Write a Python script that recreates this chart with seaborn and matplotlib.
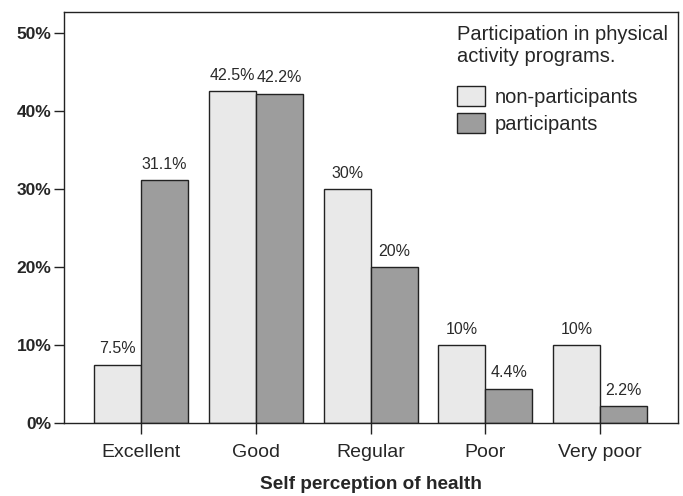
import pandas as pd
import seaborn as sns
import matplotlib.pyplot as plt

categories = ["Excellent", "Good", "Regular", "Poor", "Very poor"]
non_participants = [7.5, 42.5, 30, 10, 10]
participants = [31.1, 42.2, 20, 4.4, 2.2]
groups = ["non-participants", "participants"]

df = pd.DataFrame({
    "health": categories * 2,
    "pct": non_participants + participants,
    "group": [groups[0]] * len(categories) + [groups[1]] * len(categories),
})

sns.set_style("ticks")
plt.rcParams["font.family"] = ["Liberation Sans", "DejaVu Sans"]

fig = plt.figure(figsize=(6.83, 4.96), dpi=100)
ax = fig.add_axes([0.094, 0.147, 0.899, 0.829])

palette = {"non-participants": "#e9e9e9", "participants": "#9d9d9d"}
sns.barplot(data=df, x="health", y="pct", hue="group", order=categories, hue_order=groups,
            palette=palette, width=0.82, edgecolor="#222222", linewidth=1.0, saturation=1, ax=ax)

for container in ax.containers:
    labels = [f"{v:g}%" for v in container.datavalues]
    ax.bar_label(container, labels=labels, padding=6, fontsize=11.5, color="#2a2a2a")

ax.set_xlim(-0.67, 4.68)
ax.set_ylim(0, 52.7)
ax.set_yticks([0, 10, 20, 30, 40, 50])
ax.set_yticklabels([f"{t}%" for t in [0, 10, 20, 30, 40, 50]], fontweight="bold", fontsize=12.5)
ax.tick_params(axis="y", length=7, width=1, color="#222222", pad=2)
ax.tick_params(axis="x", bottom=True, direction="out", length=8, width=1, color="#222222",
               labelsize=14, pad=7)
ax.set_xlabel("Self perception of health", fontweight="bold", fontsize=13.7, labelpad=11)
ax.set_ylabel("")

for side in ["top", "right", "left", "bottom"]:
    ax.spines[side].set_visible(True)
    ax.spines[side].set_color("#222222")
    ax.spines[side].set_linewidth(1.0)

leg = ax.legend(title="Participation in physical\nactivity programs.", loc="upper right",
                frameon=False, fontsize=14.5, title_fontsize=14.5, handlelength=1.35,
                handleheight=1.2, handletextpad=0.5, labelspacing=0.3,
                borderpad=0, borderaxespad=0, bbox_to_anchor=(0.984, 0.968))
leg._legend_box.align = "left"
leg._legend_box.sep = 14

fig.savefig("out.png", dpi=100)
